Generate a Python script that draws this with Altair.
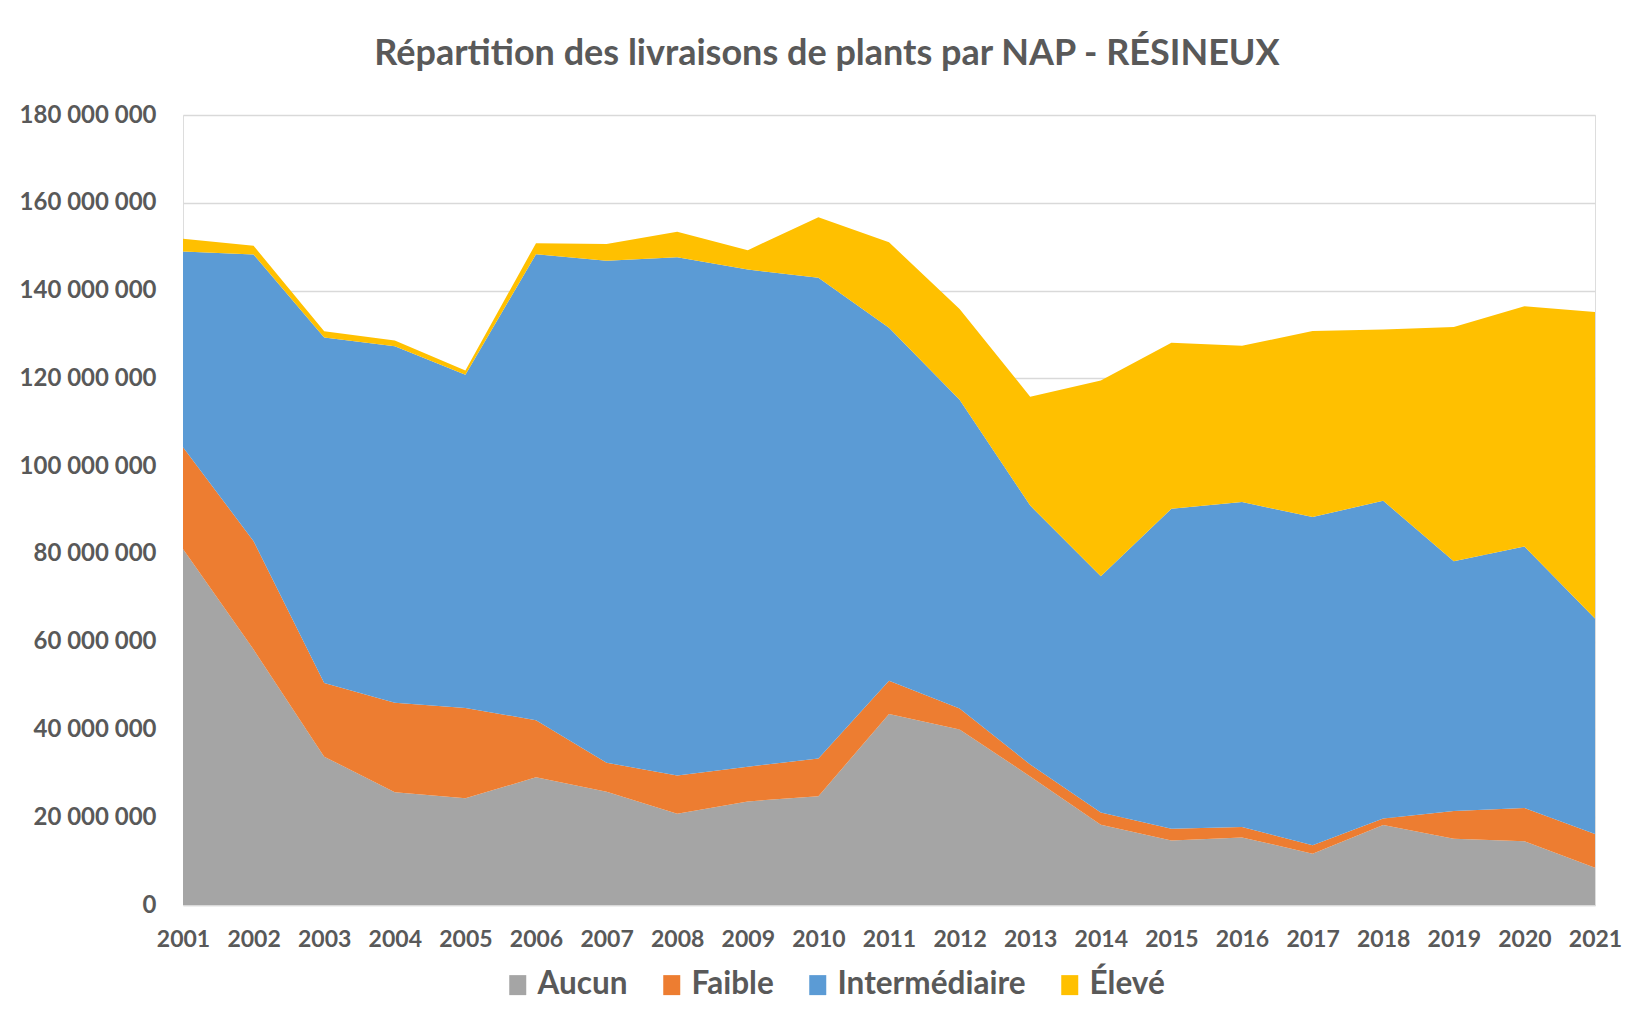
import altair as alt
import pandas as pd

years = [str(y) for y in range(2001, 2022)]

aucun = [81_100_000, 58_200_000, 33_800_000, 25_700_000, 24_300_000, 29_100_000, 25_800_000,
         20_800_000, 23_600_000, 24_800_000, 43_500_000, 40_000_000, 29_300_000, 18_300_000,
         14_700_000, 15_400_000, 11_700_000, 18_200_000, 15_100_000, 14_500_000, 8_500_000]
faible = [23_200_000, 24_700_000, 16_800_000, 20_400_000, 20_600_000, 13_000_000, 6_600_000,
          8_700_000, 7_900_000, 8_600_000, 7_600_000, 4_800_000, 2_700_000, 2_800_000,
          2_700_000, 2_400_000, 1_900_000, 1_500_000, 6_300_000, 7_600_000, 7_700_000]
intermediaire = [44_600_000, 65_300_000, 78_700_000, 81_200_000, 75_900_000, 106_200_000, 114_400_000,
                 118_100_000, 113_300_000, 109_500_000, 80_400_000, 70_300_000, 59_000_000, 53_800_000,
                 72_900_000, 74_000_000, 74_800_000, 72_400_000, 56_900_000, 59_600_000, 49_100_000]
eleve = [2_900_000, 2_000_000, 1_400_000, 1_300_000, 1_000_000, 2_500_000, 3_800_000,
         5_800_000, 4_400_000, 13_800_000, 19_500_000, 20_700_000, 24_800_000, 44_600_000,
         37_800_000, 35_600_000, 42_400_000, 39_000_000, 53_400_000, 54_700_000, 69_800_000]

categories = ["Aucun", "Faible", "Intermédiaire", "Élevé"]
colors = ["#A5A5A5", "#ED7D31", "#5B9BD5", "#FFC000"]
y_ticks = [0, 20_000_000, 40_000_000, 60_000_000, 80_000_000, 100_000_000,
           120_000_000, 140_000_000, 160_000_000, 180_000_000]

series = [aucun, faible, intermediaire, eleve]
rows = []
for i, yr in enumerate(years):
    for k, cat in enumerate(categories):
        rows.append({"annee": yr, "nap": cat, "ordre": k, "plants": series[k][i]})
df = pd.DataFrame(rows)

FONT = "Lato"
TXT = "#595959"

chart = alt.Chart(df).mark_area(opacity=1).encode(
    x=alt.X("annee:O", sort=years,
            scale=alt.Scale(type="point", padding=0),
            axis=alt.Axis(title=None, labelAngle=0, ticks=False, grid=False,
                          domain=True, domainColor="#d9d9d9", domainWidth=1.5,
                          labelFont=FONT, labelFontSize=23, labelFontWeight="bold",
                          labelColor=TXT, labelPadding=23)),
    y=alt.Y("plants:Q", stack="zero",
            scale=alt.Scale(domain=[0, 180_000_000], nice=False),
            axis=alt.Axis(title=None, values=y_ticks, ticks=False, domain=False,
                          grid=True, gridColor="#d9d9d9", gridWidth=1.5,
                          labelExpr="datum.value == 0 ? '0' : format(datum.value / 1000000, 'd') + ' 000 000'",
                          labelFont=FONT, labelFontSize=24, labelFontWeight="bold",
                          labelColor=TXT, labelPadding=27)),
    color=alt.Color("nap:N",
                    scale=alt.Scale(domain=categories, range=colors),
                    legend=alt.Legend(title=None, orient="none", direction="horizontal",
                                      legendX=319, legendY=854,
                                      symbolType="M-0.85,-1H0.85V1H-0.85Z", symbolSize=400,
                                      symbolStrokeWidth=0, symbolOpacity=1,
                                      labelFont=FONT, labelFontSize=31.5, labelFontWeight="bold",
                                      labelColor=TXT, labelOffset=4, columnPadding=28,
                                      labelLimit=0)),
    order=alt.Order("ordre:Q"),
).properties(
    width=1412,
    height=790,
    title=alt.TitleParams(
        text="Répartition des livraisons de plants par NAP - RÉSINEUX",
        font=FONT, fontSize=36, fontWeight="bold", color=TXT,
        anchor="middle", dx=-62, offset=30,
    ),
    padding={"left": 175, "top": 107, "right": 27, "bottom": 100},
    autosize="none",
).configure_view(strokeWidth=0).configure(background="white")

chart.save("out.html", embed_options={"renderer": "svg", "actions": False})
